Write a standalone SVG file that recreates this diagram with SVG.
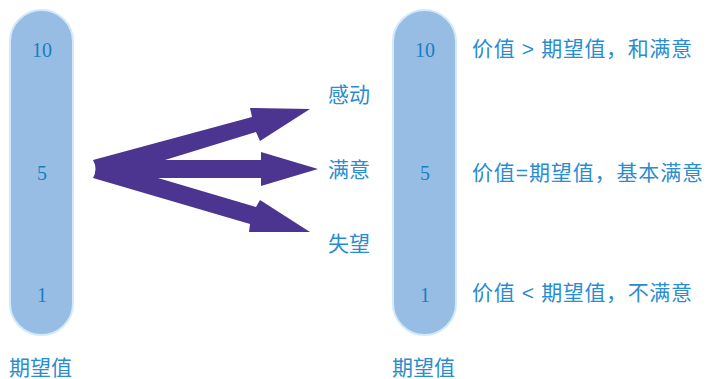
<svg xmlns="http://www.w3.org/2000/svg" width="706" height="379" viewBox="0 0 706 379">
<style>
.pill{fill:#97bde4;stroke:#d2eaf8;stroke-width:2}
.num{font-family:"Liberation Serif",serif;font-size:20px;fill:#1b7dc0;text-anchor:middle}
.t{font-family:"Liberation Sans","Noto Sans CJK SC",sans-serif;font-size:21px;fill:#2a8dd0}
.arrow{fill:#4b3590}
</style>
<rect width="706" height="379" fill="#ffffff"/>
<g id="left-scale">
<rect class="pill" x="10" y="10" width="63" height="325" rx="31.5"/>
<text class="num" x="42" y="57">10</text>
<text class="num" x="42" y="180">5</text>
<text class="num" x="42" y="302">1</text>
<text class="t" x="9" y="375">期望值</text>
</g>
<g id="right-scale">
<rect class="pill" x="393" y="10" width="63" height="325" rx="31.5"/>
<text class="num" x="425" y="57">10</text>
<text class="num" x="425" y="180">5</text>
<text class="num" x="425" y="302">1</text>
<text class="t" x="392" y="375">期望值</text>
</g>
<g id="connectors">
<path class="arrow" d="M93,160 L252,117 L250,108 L310,109 L260,141 L256,132 L165,160 L261,160 L261,152 L318,169 L261,186 L261,178 L158,178 L256,207 L260,200 L310,232 L249,232 L250,224 L93,178 Q98,169 93,160 Z"/>
</g>
<g id="outcomes">
<text class="t" x="328" y="102">感动</text>
<text class="t" x="328" y="177">满意</text>
<text class="t" x="328" y="251">失望</text>
</g>
<g id="descriptions">
<text class="t" x="472" y="56" textLength="220" lengthAdjust="spacing">价值 &gt; 期望值，和满意</text>
<text class="t" x="472" y="180" textLength="231" lengthAdjust="spacing">价值=期望值，基本满意</text>
<text class="t" x="472" y="300" textLength="220" lengthAdjust="spacing">价值 &lt; 期望值，不满意</text>
</g>
</svg>
